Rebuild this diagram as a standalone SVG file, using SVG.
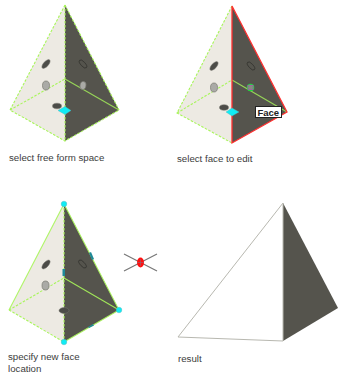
<svg xmlns="http://www.w3.org/2000/svg" width="338" height="381" viewBox="0 0 338 381">
<style>
.l{fill:#edeae3}
.r{fill:#55544d}
.g{fill:none;stroke:#a8f55a;stroke-width:1.100;stroke-dasharray:2.500 1.500}
.s{fill:none;stroke:#a8f55a;stroke-width:1.100}
.h{fill:none;stroke:#ff3030;stroke-width:1.300}
.dk{fill:#4c4c48;stroke:#77776f;stroke-width:.5}
.ol{fill:#55544d;stroke:#2e2e2a;stroke-width:.7}
.gy{fill:#aaaaa6;stroke:#77776f;stroke-width:.7}
.cy{fill:#10ecf4;stroke:#55b0b8;stroke-width:.4}
.tl{fill:#1f8a98}
.t{font-family:"Liberation Sans",Arial,sans-serif;font-size:9.700px;fill:#3c3c3c}
</style>
<g id="panel-select-space">
<polygon class="l" points="65,5 10,110 65,141"/>
<polygon class="r" points="65,5 119,110 65,141"/>
<path class="g" d="M65,5L10,110L65,141L119,110M65,5V141M10,110L65,79"/>
<path class="g" d="M65,5L119,110"/>
<path class="s" d="M65,79L119,110" stroke-opacity=".8"/>
<ellipse class="dk" cx="46" cy="64" rx="5.500" ry="2.500" transform="rotate(-48 46 64)"/>
<ellipse class="gy" cx="46" cy="85.500" rx="3.500" ry="4.500"/>
<ellipse class="dk" cx="57" cy="106" rx="4.500" ry="2.800"/>
<ellipse class="ol" cx="83" cy="64" rx="5" ry="2.200" transform="rotate(48 83 64)"/>
<ellipse class="gy" cx="83" cy="85.500" rx="3" ry="4" transform="rotate(12 83 85.500)"/>
<polygon class="cy" points="58,110.500 65,106.500 71,110.500 65,114.500"/>
<text class="t" x="9" y="161">select free form space</text>
</g>
<g id="panel-select-face">
<polygon class="l" points="232,6 177,113 232,143"/>
<polygon class="r" points="232,6 287,112 232,143"/>
<path class="g" d="M232,6L177,113L232,143M177,113L232,80"/>
<path class="s" d="M232,80L287,112" stroke-opacity=".8"/>
<path class="h" d="M232,6L287,112L232,143Z"/>
<ellipse class="dk" cx="214" cy="66" rx="5.500" ry="2.500" transform="rotate(-48 214 66)"/>
<ellipse class="gy" cx="214" cy="87.500" rx="3.500" ry="4.500"/>
<ellipse class="dk" cx="224" cy="107.500" rx="4.500" ry="2.800"/>
<ellipse class="ol" cx="251" cy="66" rx="5" ry="2.200" transform="rotate(48 251 66)"/>
<circle cx="250.500" cy="87.500" r="3" fill="#8a8a80" stroke="#20d840" stroke-width="1.500"/>
<rect x="248" y="85.500" width="5" height="4" fill="none" stroke="#c040c0" stroke-width=".7"/>
<polygon class="cy" points="226,112 232,108 239,112 232,116"/>
<rect x="255.500" y="106.500" width="26" height="11" fill="#fff" stroke="#222" stroke-width="1"/>
<text x="257.500" y="115.500" font-family="'Liberation Sans',Arial,sans-serif" font-size="9.500px" font-weight="bold" fill="#222">Face</text>
<text class="t" x="177" y="162">select face to edit</text>
</g>
<g id="panel-new-location">
<polygon class="l" points="64,204 9,310 64,342"/>
<polygon class="r" points="64,204 119,310 64,342"/>
<path class="g" d="M9,310L64,342M9,310L64,278M64,204V342"/>
<path class="s" d="M9,310L64,204L119,310M64,278L119,310M64,342L119,310" stroke-opacity=".9"/>
<rect x="62.500" y="269" width="2.500" height="7" class="tl"/>
<polygon class="tl" points="89,253 91,252 94,259 92,260"/>
<polygon class="tl" points="88,327 93,324 94,325.500 89,328"/>
<ellipse class="ol" cx="82.500" cy="264" rx="5" ry="2.200" transform="rotate(48 82.500 264)"/>
<ellipse class="dk" cx="46" cy="264.500" rx="5.500" ry="2.500" transform="rotate(-48 46 264.500)"/>
<ellipse class="gy" cx="45.500" cy="285.500" rx="3.500" ry="4.500"/>
<ellipse class="dk" cx="64" cy="310.500" rx="5" ry="3"/>
<circle class="cy" cx="64" cy="204" r="2.800"/>
<circle class="cy" cx="119" cy="310" r="2.800"/>
<circle class="cy" cx="64" cy="342" r="2.800"/>
<text class="t" x="8" y="360">specify new face</text>
<text class="t" x="8" y="372">location</text>
</g>
<g id="cursor">
<path d="M124,254L157,271M124,271L157,254" stroke="#777" stroke-width="1.200" fill="none"/>
<ellipse cx="140.500" cy="262.500" rx="3.500" ry="5" fill="#ff1010"/>
<path d="M137,262.500H144M140.500,259V266" stroke="#778" stroke-width=".5"/>
</g>
<g id="panel-result">
<polygon points="283,203 338,308 283,341" fill="#55544d"/>
<path d="M283,203L178,337L283,341V203" fill="#fff" stroke="#b8b8b0" stroke-width="1"/>
<text class="t" x="178" y="361.500">result</text>
</g>
</svg>
